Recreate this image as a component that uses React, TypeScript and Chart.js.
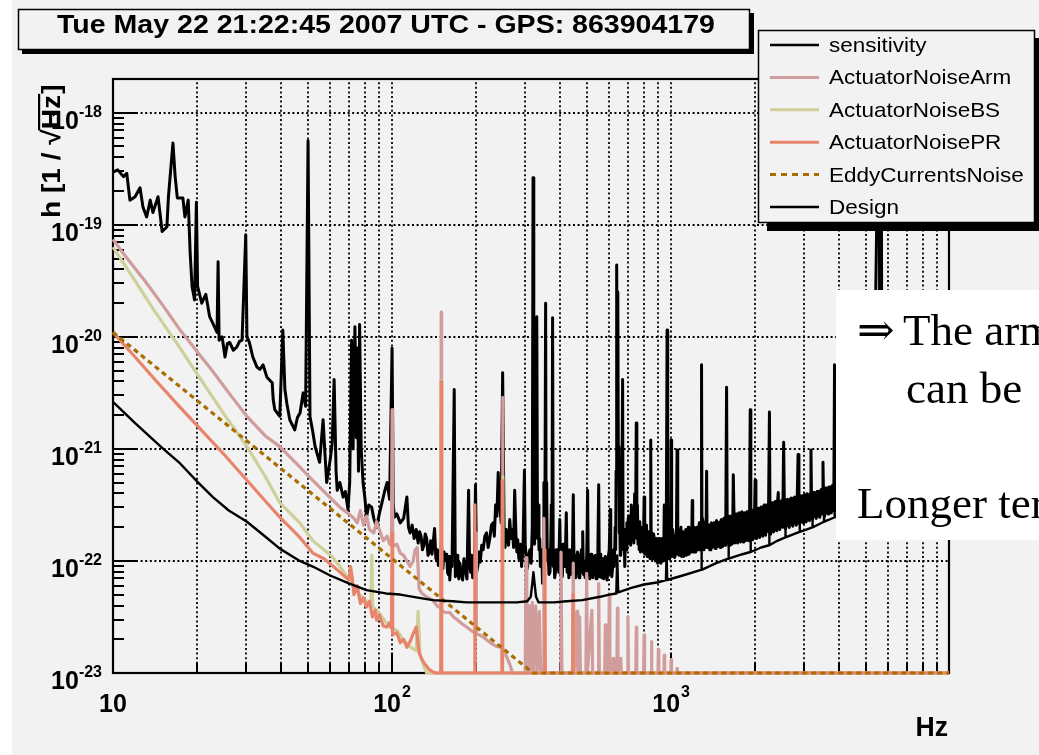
import React, { useEffect, useRef } from 'react';
import Chart from 'chart.js/auto';

// ---------- data (frequency in Hz, log10 of strain amplitude) ----------
const titleText = 'Tue May 22 21:22:45 2007 UTC - GPS: 863904179';
const seriesNames = ['sensitivity', 'ActuatorNoiseArm', 'ActuatorNoiseBS', 'ActuatorNoisePR', 'EddyCurrentsNoise', 'Design'];
const seriesColors = ['#000000', '#d09c9c', '#cfcf9a', '#e8846c', '#a86e00', '#000000'];

const sensitivityLog: [number, number][] = [
  [10, -18.53], [10.4, -18.51], [10.9, -18.57], [11.2, -18.54], [11.5, -18.78], [12.0, -18.75], [12.5, -18.67], [12.8, -18.84],
  [13.2, -18.93], [13.6, -18.78], [13.9, -18.89], [14.5, -18.75], [15.0, -19.06], [15.6, -19.02], [15.8, -18.75], [16.4, -18.27],
  [16.7, -18.57], [17.0, -18.76], [17.8, -18.76], [18.1, -18.93], [18.6, -18.78], [18.9, -19.25], [19.2, -19.55], [19.6, -19.67],
  [19.9, -18.8], [20.1, -19.55], [20.8, -19.7], [21.5, -19.62], [22.2, -19.82], [23.0, -19.9], [23.6, -19.96], [23.8, -19.33],
  [24.0, -20.03], [24.6, -20.0], [25.2, -20.18], [25.7, -20.06], [26.2, -20.05], [27.0, -20.12], [27.8, -20.09], [28.4, -20.04],
  [29.0, -20.03], [29.9, -19.09], [30.2, -20.0], [30.8, -20.05], [31.7, -20.18], [32.8, -20.27], [33.6, -20.29], [34.5, -20.25],
  [35.6, -20.36], [37.2, -20.41], [37.5, -20.56], [38.0, -20.65], [39.6, -20.71], [40.6, -19.94], [41.3, -20.47], [42.0, -20.6],
  [43.0, -20.74], [44.8, -20.83], [45.8, -20.72], [46.8, -20.68], [48.0, -20.5], [49.0, -20.62], [50.0, -18.25], [50.8, -20.71],
  [52.0, -20.85], [53.0, -20.98], [55.0, -21.12], [56.6, -20.74], [57.5, -21.05], [58.3, -21.3], [60.0, -21.1], [61.0, -20.95],
  [62.0, -20.38], [63.0, -21.2], [63.6, -21.37], [65.0, -21.3], [66.8, -21.43], [68.0, -21.38], [69.5, -21.54], [70.5, -21.3],
  [71.6, -20.03], [72.5, -21.0], [73.6, -19.91], [74.5, -20.9], [75.0, -20.1], [75.8, -21.2], [76.5, -19.89], [77.5, -21.0],
  [78.7, -21.3], [80.0, -21.45], [81.0, -21.61], [82.5, -21.5], [84.5, -21.52], [86.0, -21.62], [88.0, -21.7], [90.0, -21.58],
  [92.0, -21.48], [94.0, -21.38], [96.0, -21.3], [98.0, -21.45], [100.0, -20.1], [101.0, -21.5], [102.0, -21.61], [104.0, -21.58],
  [107.0, -21.66], [110.0, -21.62], [113.0, -21.43], [114.5, -21.7], [116.0, -21.75], [118.0, -21.68], [120.0, -21.8], [122.0, -21.72],
  [124.0, -21.84], [125.5, -21.74], [127.0, -21.78], [128.5, -21.9], [130.0, -21.86], [131.5, -21.76], [133.0, -21.8], [134.5, -21.95],
  [136.0, -21.92], [137.5, -21.82], [139.0, -21.94], [142.0, -21.71], [143.5, -21.98], [145.0, -21.9], [146.5, -22.04], [148.0, -21.96],
  [150.0, -21.8], [152.0, -22.07], [153.5, -21.92], [155.0, -21.98], [157.0, -21.94], [158.0, -22.1], [159.0, -22.12], [160.0, -21.96],
  [161.0, -22.17], [162.5, -21.98], [164.0, -22.05], [167.0, -20.47], [168.5, -22.14], [170.0, -22.1], [171.0, -21.95], [172.0, -22.1],
  [173.5, -22.16], [175.0, -22.02], [177.0, -22.12], [179.0, -22.17], [181.0, -21.98], [183.0, -22.08], [185.5, -22.16], [188.0, -21.37],
  [189.5, -22.0], [191.0, -22.1], [192.0, -21.95], [193.0, -22.05], [194.5, -22.15], [196.0, -22.0], [197.5, -22.1], [199.0, -21.32],
  [201.0, -22.1], [203.0, -22.04], [205.0, -21.92], [207.0, -22.01], [209.5, -21.86], [212.0, -21.9], [215.0, -21.78], [218.0, -21.75],
  [221.0, -21.88], [224.0, -21.8], [227.0, -21.68], [230.0, -21.66], [232.5, -21.78], [235.0, -21.5], [237.5, -21.6], [240.0, -21.21],
  [242.0, -21.48], [244.0, -21.55], [246.0, -21.66], [249.0, -20.32], [252.0, -21.7], [254.0, -21.88], [256.5, -21.72], [259.0, -21.75],
  [261.5, -21.86], [264.0, -21.63], [267.0, -21.8], [270.0, -21.72], [272.5, -21.88], [275.0, -21.37], [278.0, -21.78], [280.0, -21.92],
  [282.0, -21.81], [284.5, -21.98], [287.0, -21.95], [289.0, -21.85], [291.0, -22.05], [294.5, -21.9], [298.0, -21.19], [300.0, -21.85],
  [302.0, -21.95], [304.0, -22.08], [306.0, -22.05], [309.0, -21.94], [312.0, -21.9], [315.0, -22.02], [318.0, -21.7], [320.0, -18.58],
  [322.0, -21.6], [324.0, -21.85], [326.0, -21.4], [328.0, -21.7], [330.0, -19.82], [332.0, -21.8], [334.0, -21.5], [336.0, -21.9],
  [338.0, -21.8], [340.0, -22.05], [342.0, -22.0], [344.0, -21.9], [346.0, -22.2], [348.0, -22.0], [350.0, -21.3], [352.5, -21.95],
  [355.0, -19.7], [356.5, -21.8], [358.0, -21.3], [360.0, -22.0], [362.0, -21.9], [365.0, -22.12], [368.0, -22.1], [370.0, -21.9],
  [372.0, -21.5], [374.0, -21.95], [376.0, -19.83], [378.0, -22.05], [380.0, -21.9], [382.5, -22.15], [385.0, -22.1], [388.5, -21.9],
  [392.0, -21.9], [395.5, -22.1], [399.0, -21.63], [402.0, -22.12], [405.0, -22.0], [407.5, -22.14], [410.0, -21.85], [412.5, -22.0],
  [415.0, -22.05], [418.0, -21.92], [421.0, -21.57], [424.0, -22.1], [427.0, -22.02], [430.0, -22.15], [433.0, -21.9], [436.5, -22.12],
  [440.0, -22.05], [443.0, -21.92], [446.0, -21.41], [449.0, -22.1], [452.0, -21.95], [455.0, -22.15], [458.0, -22.05], [461.5, -21.92],
  [465.0, -21.95], [468.0, -22.15], [471.0, -22.1], [474.0, -21.98], [477.0, -21.9], [479.5, -22.1], [482.0, -21.74], [485.0, -22.12],
  [488.0, -22.0], [491.5, -22.15], [495.0, -22.1], [498.5, -21.95], [502.0, -21.37], [505.0, -22.12], [508.0, -21.95], [511.0, -22.16],
  [514.0, -22.08], [517.0, -21.94], [520.0, -21.98], [523.5, -22.15], [527.0, -22.1], [531.0, -21.96], [535.0, -21.95], [538.5, -22.16],
  [542.0, -22.12], [546.0, -21.96], [550.0, -21.32], [553.0, -22.14], [556.0, -22.0], [559.5, -21.94], [563.0, -22.15], [566.5, -22.0],
  [570.0, -21.98], [573.5, -22.16], [577.0, -22.12], [581.0, -21.96], [585.0, -22.0], [589.0, -22.17], [593.0, -22.1], [596.5, -21.95],
  [600.0, -21.9], [605.0, -21.54], [607.5, -22.12], [610.0, -22.0], [613.0, -22.14], [616.0, -22.08], [619.0, -21.95], [622.0, -21.9],
  [626.0, -22.05], [630.0, -21.7], [632.5, -21.9], [635.0, -21.2], [638.0, -19.36], [641.0, -20.5], [644.0, -19.6], [647.0, -21.2],
  [650.0, -20.98], [652.0, -21.75], [654.0, -21.6], [657.0, -21.95], [660.0, -21.9], [662.5, -21.7], [665.0, -21.5], [670.0, -20.38],
  [672.5, -21.8], [675.0, -21.9], [678.5, -21.72], [682.0, -22.05], [686.0, -21.8], [690.0, -21.9], [694.0, -21.66], [698.0, -21.85],
  [701.5, -21.62], [705.0, -21.6], [708.5, -21.82], [712.0, -21.7], [716.0, -21.86], [720.0, -21.5], [725.0, -21.8], [730.0, -21.65],
  [735.0, -21.84], [740.0, -21.4], [745.0, -21.76], [750.0, -20.77], [753.5, -21.8], [757.0, -21.5], [761.0, -21.85], [765.0, -21.75],
  [768.5, -21.9], [772.0, -21.65], [776.0, -21.92], [780.0, -21.88], [785.0, -21.72], [790.0, -21.7], [795.0, -21.92], [800.0, -21.43],
  [804.0, -21.94], [808.0, -21.85], [812.0, -21.7], [816.0, -21.68], [820.5, -21.96], [825.0, -21.95], [830.0, -21.74], [835.0, -21.78],
  [840.0, -21.98], [845.0, -20.92], [848.5, -21.96], [852.0, -21.75], [856.0, -21.92], [860.0, -21.98], [865.0, -21.76], [870.0, -21.8],
  [875.0, -21.98], [880.0, -22.0], [885.0, -21.8], [890.0, -21.84], [895.0, -22.02], [900.0, -22.0], [906.0, -21.8], [912.0, -21.82],
  [918.5, -22.02], [925.0, -22.0], [930.0, -21.8], [935.0, -21.82], [940.0, -22.0], [945.0, -21.5], [950.0, -21.96], [955.0, -21.98],
  [958.5, -21.78], [962.0, -21.4], [967.0, -19.94], [972.0, -21.3], [975.0, -21.95], [978.0, -21.8], [981.5, -21.98], [985.0, -21.98],
  [988.5, -21.78], [992.0, -21.76], [996.0, -21.96], [1000.0, -20.92], [1004.0, -21.96], [1008.0, -21.82], [1012.0, -21.72], [1016.0, -21.96],
  [1020.5, -21.8], [1025.0, -21.78], [1030.0, -21.97], [1035.0, -21.94], [1040.0, -21.76], [1045.0, -21.72], [1050.0, -21.01], [1054.0, -21.94],
  [1058.0, -21.8], [1063.0, -21.72], [1068.0, -21.95], [1073.0, -21.88], [1078.0, -21.76], [1084.0, -21.7], [1090.0, -21.96], [1096.0, -21.86],
  [1102.0, -21.74], [1108.5, -21.96], [1115.0, -21.94], [1121.5, -21.76], [1128.0, -21.72], [1134.0, -21.95], [1140.0, -21.93], [1146.0, -21.74],
  [1152.0, -21.7], [1158.5, -21.94], [1165.0, -21.92], [1171.5, -21.74], [1178.0, -21.72], [1184.0, -21.92], [1190.0, -21.46], [1195.0, -21.9],
  [1200.0, -21.92], [1206.0, -21.72], [1212.0, -21.7], [1218.5, -21.92], [1225.0, -21.91], [1231.5, -21.72], [1238.0, -21.7], [1244.0, -21.9],
  [1250.0, -21.9], [1256.0, -21.7], [1262.0, -21.66], [1268.5, -21.9], [1275.0, -21.9], [1280.0, -21.7], [1285.0, -20.25], [1290.0, -21.88],
  [1295.0, -21.62], [1302.5, -21.66], [1310.0, -21.9], [1317.5, -21.86], [1325.0, -21.68], [1332.5, -21.88], [1340.0, -21.2], [1346.0, -21.86],
  [1352.0, -21.88], [1360.0, -21.7], [1368.0, -21.68], [1375.0, -21.9], [1382.0, -21.9], [1388.5, -21.68], [1395.0, -21.66], [1402.5, -21.88],
  [1410.0, -21.88], [1417.5, -21.68], [1425.0, -21.66], [1432.5, -21.88], [1440.0, -21.89], [1447.5, -21.66], [1455.0, -21.64], [1462.5, -21.86],
  [1470.0, -21.87], [1477.5, -21.66], [1485.0, -21.66], [1492.5, -21.86], [1500.0, -21.88], [1507.5, -21.64], [1515.0, -21.63], [1522.5, -21.86],
  [1530.0, -21.87], [1537.5, -21.64], [1545.0, -21.62], [1552.5, -21.85], [1560.0, -21.86], [1570.0, -21.62], [1580.0, -20.45], [1589.0, -21.84],
  [1598.0, -21.6], [1606.5, -21.62], [1615.0, -21.86], [1623.5, -21.84], [1632.0, -21.6], [1641.0, -21.62], [1650.0, -21.85], [1660.0, -21.82],
  [1670.0, -21.23], [1680.0, -21.6], [1690.0, -21.84], [1700.0, -21.82], [1710.0, -21.58], [1720.0, -21.6], [1730.0, -21.84], [1740.0, -21.82],
  [1750.0, -21.57], [1760.0, -21.58], [1770.0, -21.83], [1780.0, -21.8], [1790.0, -21.56], [1800.0, -21.58], [1810.0, -21.83], [1820.0, -21.8],
  [1830.0, -21.57], [1840.0, -21.58], [1850.0, -21.82], [1860.0, -21.8], [1870.0, -21.56], [1882.5, -21.58], [1895.0, -21.82], [1907.5, -21.78],
  [1920.0, -20.65], [1930.0, -21.8], [1940.0, -21.55], [1950.0, -21.56], [1960.0, -21.81], [1970.0, -21.78], [1980.0, -21.54], [1990.0, -21.58],
  [2000.0, -21.28], [2012.5, -21.78], [2025.0, -21.8], [2037.5, -21.54], [2050.0, -21.53], [2062.5, -21.78], [2075.0, -21.79], [2087.5, -21.54],
  [2100.0, -21.52], [2115.0, -21.76], [2130.0, -21.78], [2142.5, -21.52], [2155.0, -21.5], [2167.5, -21.76], [2180.0, -21.77], [2195.0, -21.52],
  [2210.0, -21.5], [2230.0, -21.74], [2250.0, -20.67], [2262.5, -21.76], [2275.0, -21.74], [2287.5, -21.5], [2300.0, -21.48], [2315.0, -21.73],
  [2330.0, -21.74], [2345.0, -21.49], [2360.0, -21.47], [2375.0, -21.72], [2390.0, -21.73], [2405.0, -21.48], [2420.0, -21.39], [2435.0, -21.7],
  [2450.0, -21.72], [2470.0, -21.48], [2490.0, -21.46], [2510.0, -21.7], [2530.0, -20.94], [2550.0, -21.7], [2570.0, -21.71], [2590.0, -21.46],
  [2610.0, -21.45], [2630.0, -21.68], [2650.0, -21.7], [2670.0, -21.45], [2690.0, -21.44], [2710.0, -21.67], [2730.0, -21.69], [2750.0, -21.44],
  [2770.0, -21.43], [2790.0, -21.66], [2810.0, -21.68], [2830.0, -21.43], [2850.0, -21.05], [2870.0, -21.66], [2890.0, -21.67], [2910.0, -21.42],
  [2930.0, -21.42], [2950.0, -21.64], [2970.0, -21.66], [2990.0, -21.41], [3010.0, -21.41], [3030.0, -21.63], [3050.0, -21.65], [3070.0, -21.4],
  [3090.0, -21.4], [3110.0, -21.62], [3130.0, -21.64], [3150.0, -21.4], [3170.0, -21.01], [3190.0, -21.62], [3210.0, -21.63], [3235.0, -21.39],
  [3260.0, -21.39], [3285.0, -21.6], [3310.0, -21.62], [3335.0, -21.38], [3360.0, -21.38], [3385.0, -21.6], [3410.0, -21.61], [3435.0, -21.37],
  [3460.0, -21.36], [3480.0, -21.58], [3500.0, -21.12], [3525.0, -21.58], [3550.0, -21.6], [3575.0, -21.35], [3600.0, -21.35], [3625.0, -21.57],
  [3650.0, -21.58], [3675.0, -21.34], [3700.0, -21.34], [3725.0, -21.56], [3750.0, -21.57], [3775.0, -21.33], [3800.0, -21.33], [3825.0, -21.55],
  [3850.0, -20.25], [3875.0, -21.32], [3900.0, -21.55], [4000.0, -21.3], [4200.0, -21.5], [4400.0, -21.25], [4600.0, -21.45], [4800.0, -21.2],
  [5000.0, -21.4], [5300.0, -21.15], [5560.0, -17.5], [5600.0, -21.1], [5650.0, -17.5], [5700.0, -21.3], [6000.0, -21.1], [6500.0, -21.25],
  [7000.0, -21.0], [7500.0, -21.2], [8000.0, -20.95], [8500.0, -21.1], [9000.0, -20.9], [9500.0, -21.05], [9900.0, -20.85],
];

const actuatorArmLog: [number, number][] = [
  [10, -19.13], [11, -19.27], [12, -19.39], [13, -19.5], [15, -19.71], [17.4, -19.94], [20, -20.13], [22.8, -20.31], [26, -20.5],
  [30.2, -20.71], [35, -20.88], [39.6, -20.98], [45, -21.12], [52, -21.28], [58, -21.4], [65, -21.52], [70, -21.58], [73, -21.62],
  [75, -21.66], [77, -21.55], [79, -21.68], [81, -21.6], [83, -21.72], [86, -21.75], [88, -21.65], [90, -21.72], [93, -21.82],
  [96, -21.78], [98, -21.85], [99.5, -21.86], [100, -20.65], [100.5, -21.87], [104, -21.85], [107, -21.93], [110, -21.95], [113, -22.0],
  [116, -22.05], [119, -22.0], [121, -21.9], [123, -21.88], [125, -22.25], [128, -22.29], [133, -22.32], [140, -22.35], [145, -22.4],
  [149.5, -22.42], [150, -19.78], [150.5, -22.44], [155, -22.46], [161, -22.46], [166, -22.5], [172, -22.53], [178, -22.56], [185, -22.59],
  [192, -22.62], [199.5, -22.65], [200, -21.75], [200.5, -22.65], [206, -22.66], [212, -22.68], [220, -22.71], [228, -22.74], [236, -22.76],
  [245, -22.77], [248.5, -22.78], [249, -20.54], [249.5, -22.8], [258, -22.86], [264, -22.92], [270, -23], [300, -23], [302, -21.97],
  [304, -23], [310, -22.4], [313, -23], [318, -22.37], [321, -23], [327, -22.4], [331, -23], [337, -22.45], [341, -23], [348, -23],
  [350, -21.62], [352, -23], [400, -23], [403, -21.92], [406, -23], [443, -23], [446, -22.02], [449, -23], [460, -22.45], [463, -23],
  [470, -22.5], [473, -23], [495, -23], [498, -22.11], [501, -23], [520, -22.44], [523, -23], [547, -23], [550, -22.2], [553, -23],
  [578, -23], [581, -22.57], [584, -23], [597, -23], [600, -22.3], [603, -23], [617, -23], [620, -22.87], [623, -23], [639, -23],
  [642, -22.42], [645, -23], [657, -23], [660, -22.87], [663, -23], [697, -23], [700, -22.5], [703, -23], [747, -23], [750, -22.59],
  [753, -23], [797, -23], [800, -22.66], [803, -23], [847, -23], [850, -22.72], [853, -23], [897, -23], [900, -22.79], [903, -23],
  [942, -23], [945, -22.84], [948, -23], [997, -23], [1000, -22.88], [1003, -23], [1047, -23], [1050, -22.96], [1053, -23], [9900, -23],
];

const actuatorBSLog: [number, number][] = [
  [10, -19.2], [12, -19.5], [14, -19.76], [17.4, -20.1], [20, -20.33], [25, -20.69], [30.2, -20.98], [35, -21.24], [39.6, -21.48],
  [46.7, -21.66], [52, -21.82], [61, -21.96], [65, -22.05], [69, -22.14], [72, -22.2], [75, -22.28], [78, -22.32], [81, -22.36],
  [84, -22.4], [84.6, -21.95], [85.2, -22.41], [89, -22.45], [92, -22.5], [96, -22.56], [100, -22.6], [104, -22.62], [108, -22.68],
  [113, -22.74], [118, -22.78], [122, -22.8], [124, -22.45], [126, -22.84], [128, -22.88], [130, -22.94], [133, -23], [149.5, -23],
  [150, -20.39], [150.5, -23], [248.5, -23], [249, -21.25], [249.5, -23], [443, -23], [445, -22.5], [447, -23], [9900, -23],
];

const actuatorPRLog: [number, number][] = [
  [10, -19.96], [12, -20.18], [14, -20.37], [17.4, -20.63], [20, -20.79], [25, -21.05], [30.2, -21.28], [35, -21.46], [39.6, -21.61],
  [46.7, -21.79], [52, -21.93], [57, -21.98], [61, -22.04], [65, -22.1], [70, -22.17], [71, -22.05], [72, -22.15], [73, -22.3],
  [75, -22.22], [77, -22.38], [79, -22.33], [81, -22.41], [83, -22.36], [85, -22.5], [87, -22.44], [88, -22.53], [90, -22.48],
  [93, -22.58], [96, -22.59], [98, -22.55], [99.5, -22.6], [100, -21.75], [100.5, -22.66], [104, -22.64], [107, -22.73], [110, -22.7],
  [113, -22.77], [116, -22.72], [119, -22.65], [122, -22.59], [124, -22.75], [125, -22.82], [128, -22.88], [131, -22.92], [133, -22.94],
  [136, -22.97], [140, -22.99], [143, -23], [149.5, -23], [150, -20.4], [150.5, -23], [197.5, -23], [198, -21.5], [198.5, -23],
  [247.5, -23], [248, -21.28], [248.5, -23], [352, -23], [353, -21.9], [354, -23], [444, -23], [445, -22.3], [446, -23], [9900, -23],
];

const eddyCurrentsLog: [number, number][] = [[10, -19.96], [320, -23], [9900, -23]];

const designLog: [number, number][] = [
  [10, -20.58], [12, -20.77], [15, -20.99], [17.4, -21.13], [20, -21.29], [22.8, -21.43], [26, -21.55], [30.2, -21.65], [35, -21.78],
  [39.6, -21.89], [46.7, -22.0], [52, -22.05], [60, -22.13], [70, -22.2], [81, -22.26], [95, -22.29], [107, -22.3], [125, -22.33],
  [140, -22.35], [165, -22.36], [185, -22.37], [215, -22.37], [245, -22.37], [280, -22.37], [305, -22.36], [314, -22.32], [318, -22.2],
  [321, -22.1], [324, -22.2], [328, -22.32], [335, -22.37], [380, -22.37], [422, -22.36], [480, -22.35], [556, -22.32], [600, -22.3],
  [636, -22.29], [641, -21.95], [646, -22.28], [720, -22.24], [800, -22.21], [900, -22.19], [958, -22.17], [963, -21.92], [968, -22.17],
  [1100, -22.13], [1280, -22.08], [1284, -21.85], [1288, -22.08], [1450, -22.02], [1600, -21.98], [1605, -21.76], [1610, -21.98],
  [1800, -21.94], [1922, -21.92], [1926, -21.7], [1930, -21.92], [2100, -21.88], [2243, -21.86], [2247, -21.63], [2251, -21.86],
  [2400, -21.82], [2565, -21.79], [2568, -21.57], [2571, -21.79], [2750, -21.76], [2886, -21.74], [2889, -21.52], [2892, -21.74],
  [3050, -21.72], [3207, -21.7], [3210, -21.48], [3213, -21.7], [3400, -21.67], [3528, -21.65], [3531, -21.42], [3534, -21.65],
  [3700, -21.63], [3849, -21.61], [3852, -21.38], [3855, -21.61], [4200, -21.56], [4700, -21.5], [5500, -21.42], [6500, -21.33],
  [8000, -21.22], [9900, -21.1],
];

// axis ranges and ticks
const xMin = 10;
const xMax = 9900;
const yMin = 1e-23;
const yMax = 2e-18;
const yTickExponents = [-18, -19, -20, -21, -22, -23];
const xTickLabels: { value: number; base: string; sup: string }[] = [
  { value: 10, base: '10', sup: '' },
  { value: 100, base: '10', sup: '2' },
  { value: 1000, base: '10', sup: '3' },
];
const xGridValues = [20, 30, 40, 50, 60, 70, 80, 90, 100, 200, 300, 400, 500, 600, 700, 800, 900, 1000, 2000, 3000, 4000, 5000, 6000, 7000, 8000, 9000];
const noteLines = ['The arm', 'can be', 'Longer term'];

const toPoints = (arr: [number, number][]) => arr.map(([f, e]) => ({ x: f, y: Math.pow(10, e) }));

const SANS = '"Liberation Sans", Arial, Helvetica, sans-serif';
const SERIF = '"Liberation Serif", "Times New Roman", "DejaVu Serif", serif';

function drawScaled(ctx: CanvasRenderingContext2D, text: string, x: number, y: number, font: string, sx: number, align: 'left' | 'center' | 'right' = 'left') {
  ctx.save();
  ctx.font = font;
  ctx.textAlign = 'left';
  ctx.textBaseline = 'alphabetic';
  const w = ctx.measureText(text).width * sx;
  let x0 = x;
  if (align === 'center') x0 = x - w / 2;
  else if (align === 'right') x0 = x - w;
  ctx.translate(x0, y);
  ctx.scale(sx, 1);
  ctx.fillText(text, 0, 0);
  ctx.restore();
  return w;
}

const rootPlugin = {
  id: 'rootStyle',
  beforeDraw(chart: any) {
    const ctx: CanvasRenderingContext2D = chart.ctx;
    ctx.save();
    ctx.fillStyle = '#ffffff';
    ctx.fillRect(0, 0, chart.width, chart.height);
    ctx.fillStyle = '#f2f2f2';
    ctx.fillRect(12, 0, chart.width - 12, chart.height);
    ctx.restore();
  },
  beforeDatasetsDraw(chart: any) {
    const ctx: CanvasRenderingContext2D = chart.ctx;
    const a = chart.chartArea;
    const xs = chart.scales.x;
    const ys = chart.scales.y;
    ctx.save();
    // dotted grid
    ctx.strokeStyle = '#000';
    ctx.lineWidth = 1.8;
    ctx.setLineDash([2, 2.6]);
    for (const v of xGridValues) {
      const px = Math.round(xs.getPixelForValue(v));
      ctx.beginPath();
      ctx.moveTo(px, a.bottom);
      ctx.lineTo(px, a.top);
      ctx.stroke();
    }
    for (const e of yTickExponents) {
      if (e === -23) continue;
      const py = Math.round(ys.getPixelForValue(Math.pow(10, e)));
      ctx.beginPath();
      ctx.moveTo(a.left, py);
      ctx.lineTo(a.right, py);
      ctx.stroke();
    }
    ctx.setLineDash([]);
    // frame
    ctx.lineWidth = 2.2;
    ctx.strokeRect(a.left, a.top, a.right - a.left, a.bottom - a.top);
    // y ticks (left axis, pointing inwards)
    ctx.lineWidth = 2;
    for (let d = -23; d <= -18; d++) {
      for (let m = 1; m <= 9; m++) {
        const v = m * Math.pow(10, d);
        if (v < yMin * 0.999 || v > yMax * 1.001) continue;
        const py = Math.round(ys.getPixelForValue(v));
        const len = m === 1 ? 23 : 11;
        ctx.beginPath();
        ctx.moveTo(a.left, py);
        ctx.lineTo(a.left + len, py);
        ctx.stroke();
      }
    }
    // x ticks (bottom axis, pointing up)
    for (let k = 1; k <= 3; k++) {
      for (let m = 1; m <= 9; m++) {
        const v = m * Math.pow(10, k);
        if (v < xMin || v > xMax) continue;
        const px = Math.round(xs.getPixelForValue(v));
        const len = m === 1 ? 20 : 10;
        ctx.beginPath();
        ctx.moveTo(px, a.bottom);
        ctx.lineTo(px, a.bottom - len);
        ctx.stroke();
      }
    }
    ctx.restore();
  },
  afterDraw(chart: any) {
    const ctx: CanvasRenderingContext2D = chart.ctx;
    const xs = chart.scales.x;
    const ys = chart.scales.y;
    ctx.save();
    ctx.fillStyle = '#000';
    const baseFont = `bold 25px ${SANS}`;
    const supFont = `bold 16px ${SANS}`;
    // y tick labels
    for (const e of yTickExponents) {
      const py = ys.getPixelForValue(Math.pow(10, e));
      ctx.font = supFont;
      const sw = ctx.measureText(String(e)).width;
      ctx.font = baseFont;
      const bw = ctx.measureText('10').width;
      const right = 102;
      ctx.fillText('10', right - sw - bw, py + 16);
      ctx.font = supFont;
      ctx.fillText(String(e), right - sw, py + 4);
    }
    // x tick labels
    for (const t of xTickLabels) {
      const px = xs.getPixelForValue(t.value);
      ctx.font = baseFont;
      const bw = ctx.measureText(t.base).width;
      ctx.font = supFont;
      const sw = t.sup ? ctx.measureText(t.sup).width + 1 : 0;
      const x0 = px - (bw + sw) / 2;
      ctx.font = baseFont;
      ctx.fillText(t.base, x0, 712);
      if (t.sup) {
        ctx.font = supFont;
        ctx.fillText(t.sup, x0 + bw + 1, 697);
      }
    }
    // x title
    drawScaled(ctx, 'Hz', 948, 736, `bold 28px ${SANS}`, 0.95, 'right');
    // y title (rotated)
    ctx.save();
    ctx.translate(60, 218);
    ctx.rotate(-Math.PI / 2);
    ctx.scale(1.08, 1);
    ctx.font = `bold 26px ${SANS}`;
    ctx.textBaseline = 'alphabetic';
    let u = 0;
    ctx.fillText('h [1 / ', u, 0);
    u += ctx.measureText('h [1 / ').width;
    ctx.fillText('\u221A', u, 0);
    const sqW = ctx.measureText('\u221A').width;
    const hzStart = u + sqW;
    ctx.fillText('Hz', hzStart, 0);
    const hzW = ctx.measureText('Hz').width;
    ctx.fillRect(hzStart - 1, -22, hzW + 2, 2.2);
    ctx.fillText(']', hzStart + hzW + 1, 0);
    ctx.restore();

    // title box
    ctx.fillStyle = '#000';
    ctx.fillRect(22, 13, 732, 41);
    ctx.fillStyle = '#f2f2f2';
    ctx.fillRect(18, 9, 732, 41);
    ctx.strokeStyle = '#000';
    ctx.lineWidth = 1.5;
    ctx.strokeRect(18.5, 9.5, 731, 40);
    ctx.fillStyle = '#000';
    ctx.font = `bold 25px ${SANS}`;
    const tw = ctx.measureText(titleText).width;
    drawScaled(ctx, titleText, 57, 33, `bold 25px ${SANS}`, 658 / tw, 'left');

    // legend
    const lx = 758, ly = 30, lw = 277, lh = 193;
    ctx.fillStyle = '#000';
    ctx.fillRect(lx + 9, ly + 8, lw, lh);
    ctx.fillStyle = '#f2f2f2';
    ctx.fillRect(lx, ly, lw, lh);
    ctx.lineWidth = 1.5;
    ctx.strokeRect(lx + 0.5, ly + 0.5, lw - 1, lh - 1);
    const widths = [2.4, 3, 3, 3, 3, 2.6];
    for (let i = 0; i < seriesNames.length; i++) {
      const yy = 45 + i * 32.4;
      ctx.save();
      ctx.strokeStyle = seriesColors[i];
      ctx.lineWidth = widths[i];
      if (i === 4) ctx.setLineDash([6, 5]);
      ctx.beginPath();
      ctx.moveTo(770, yy);
      ctx.lineTo(819, yy);
      ctx.stroke();
      ctx.restore();
      ctx.fillStyle = '#000';
      drawScaled(ctx, seriesNames[i], 829, yy + 7, `21px ${SANS}`, 1.07, 'left');
    }

    // white note box
    ctx.fillStyle = '#ffffff';
    ctx.fillRect(836, 290, 220, 250);
    ctx.fillStyle = '#000';
    ctx.font = `45px ${SERIF}`;
    ctx.textAlign = 'left';
    ctx.textBaseline = 'alphabetic';
    ctx.fillText('\u21D2', 857, 345);
    ctx.fillText(noteLines[0], 903, 345);
    ctx.fillText(noteLines[1], 906, 403);
    ctx.fillText(noteLines[2], 857, 518);
    ctx.restore();
  },
};

export default function App() {
  const canvasRef = useRef<HTMLCanvasElement | null>(null);

  useEffect(() => {
    const canvas = canvasRef.current;
    if (!canvas) return;
    const clip = { left: 1, top: 1, right: 1, bottom: 3 };
    const mk = (i: number, arr: [number, number][], width: number, order: number, dash?: number[]) => ({
      label: seriesNames[i],
      data: toPoints(arr),
      borderColor: seriesColors[i],
      backgroundColor: seriesColors[i],
      borderWidth: width,
      borderDash: dash || [],
      pointRadius: 0,
      pointHoverRadius: 0,
      tension: 0,
      fill: false,
      borderJoinStyle: 'round' as const,
      order,
      clip,
    });
    const chart = new Chart(canvas, {
      type: 'line',
      data: {
        datasets: [
          mk(0, sensitivityLog, 3, 6),
          mk(1, actuatorArmLog, 3.2, 5),
          mk(2, actuatorBSLog, 3.2, 4),
          mk(3, actuatorPRLog, 3.2, 3),
          mk(4, eddyCurrentsLog, 3.2, 2, [5, 4]),
          mk(5, designLog, 2.4, 1),
        ],
      },
      options: {
        animation: false,
        responsive: false,
        devicePixelRatio: 1,
        layout: { padding: { left: 113, top: 79, right: 90, bottom: 82 } },
        plugins: { legend: { display: false }, tooltip: { enabled: false }, title: { display: false } },
        events: [],
        scales: {
          x: { type: 'logarithmic', min: xMin, max: xMax, display: false },
          y: { type: 'logarithmic', min: yMin, max: yMax, display: false },
        },
      } as any,
      plugins: [rootPlugin as any],
    });
    return () => chart.destroy();
  }, []);

  return (
    <div style={{ position: 'fixed', left: 0, top: 0, width: 1039, height: 755, background: '#fff' }}>
      <canvas ref={canvasRef} width={1039} height={755} style={{ display: 'block', width: 1039, height: 755 }} />
    </div>
  );
}
